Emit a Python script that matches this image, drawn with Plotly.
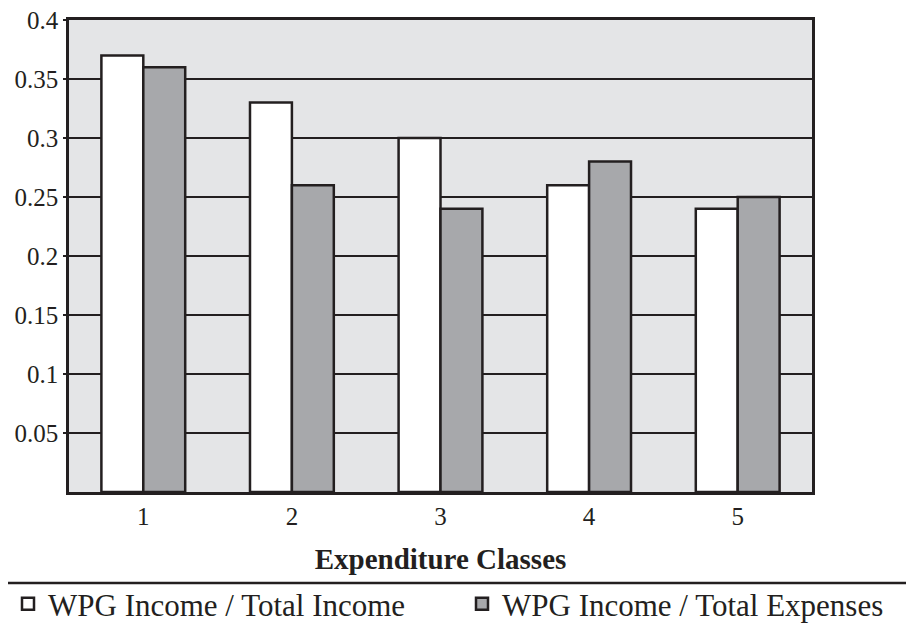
import plotly.graph_objects as go

categories = ["1", "2", "3", "4", "5"]
income_share = [0.37, 0.33, 0.30, 0.26, 0.24]
expense_share = [0.36, 0.26, 0.24, 0.28, 0.25]
series_names = ["WPG Income / Total Income", "WPG Income / Total Expenses"]
y_tickvals = [0.05, 0.1, 0.15, 0.2, 0.25, 0.3, 0.35, 0.4]
y_ticktext = ["0.05", "0.1", "0.15", "0.2", "0.25", "0.3", "0.35", "0.4"]
x_title = "Expenditure Classes"

INK = "#231f20"
FONT = "Liberation Serif"

fig = go.Figure()
fig.add_trace(go.Bar(
    x=categories, y=income_share, name=series_names[0],
    marker=dict(color="#ffffff", line=dict(color=INK, width=2.5)),
    legend="legend",
))
fig.add_trace(go.Bar(
    x=categories, y=expense_share, name=series_names[1],
    marker=dict(color="#a7a8ab", line=dict(color=INK, width=2.5)),
    legend="legend2",
))

# page has an 8px body margin; figure coords = page coords - OFF
OFF = 8
W, H = 914 - OFF, 628 - OFF
L, R, T, B = 69 - OFF, 102, 20 - OFF, 136
pw, ph = W - L - R, H - T - B

def py(page_pix):
    return (T + ph - (page_pix - OFF)) / ph

def px(page_pix):
    return ((page_pix - OFF) - L) / pw

fig.update_layout(
    width=W, height=H,
    margin=dict(l=L, r=R, t=T, b=B, autoexpand=False),
    paper_bgcolor="white",
    plot_bgcolor="#e4e5e7",
    barmode="group",
    bargap=0.436,
    bargroupgap=0,
    font=dict(family=FONT, color=INK),
    showlegend=True,
    legend=dict(
        xref="container", x=0, xanchor="left",
        y=py(604), yanchor="middle",
        font=dict(family=FONT, size=31, color=INK),
        bgcolor="rgba(0,0,0,0)",
    ),
    legend2=dict(
        xref="container", x=(502 - 40 - OFF) / W, xanchor="left",
        y=py(604), yanchor="middle",
        font=dict(family=FONT, size=31, color=INK),
        bgcolor="rgba(0,0,0,0)",
    ),
)

fig.update_xaxes(
    type="category",
    range=[-0.5, 4.5],
    showline=True, linecolor=INK, linewidth=2.5, mirror=True,
    ticks="", showgrid=False, zeroline=False,
    tickfont=dict(family=FONT, size=25, color=INK),
    title=dict(text="<b>" + x_title + "</b>", font=dict(family=FONT, size=29, color=INK), standoff=20),
)
fig.update_yaxes(
    range=[0, 0.4],
    tickvals=y_tickvals, ticktext=y_ticktext,
    ticklabeloverflow="allow",
    showline=True, linecolor=INK, linewidth=2.5, mirror=True,
    ticks="outside", ticklen=3, tickwidth=2, tickcolor=INK,
    showgrid=True, gridcolor=INK, gridwidth=2,
    zeroline=False,
    tickfont=dict(family=FONT, size=25, color=INK),
)

fig.add_shape(
    type="line", xref="paper", yref="paper",
    x0=px(0), x1=px(914), y0=py(583), y1=py(583),
    line=dict(color=INK, width=2.5),
)

fig.write_html("out.html")
